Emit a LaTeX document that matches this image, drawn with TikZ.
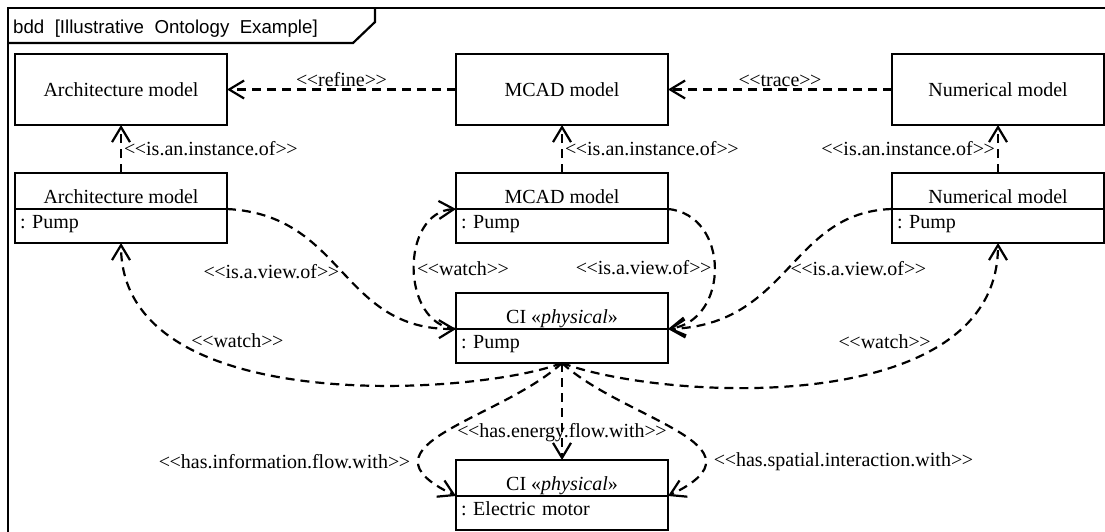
\documentclass[tikz,border=0pt]{standalone}
\usepackage{fontspec}
\setmainfont{Liberation Serif}
\newfontfamily\framefont{Liberation Sans}
\usepackage{tikz}
\usetikzlibrary{arrows.meta, positioning}
\frenchspacing

\newcommand{\stereo}[1]{<\kern-0.5pt<#1>\kern-0.5pt>}

\begin{document}
\begin{tikzpicture}[
  x=1pt, y=1pt,
  every node/.style={font=\fontsize{20}{24}\selectfont},
  model/.style={draw, line width=2.2pt, outer sep=0pt, inner sep=0pt,
    minimum width=212pt, minimum height=71pt},
  head/.style={draw, line width=2.2pt, outer sep=0pt, inner sep=0pt,
    minimum width=212pt, minimum height=36pt, text height=24pt, text depth=0pt},
  part/.style={draw, line width=2.2pt, outer sep=0pt, inner xsep=5pt, inner ysep=0pt,
    text width=202pt, align=left, minimum height=34pt, text height=4pt, text depth=0pt},
  dep/.style={-{Straight Barb[length=15pt, width=18pt]}, line width=2.2pt,
    dash pattern=on 9pt off 6pt},
  lbl/.style={inner sep=2pt}
]
\path[use as bounding box, clip] (0,0) rectangle (1105,-532);

% frame
\draw[line width=2.2pt] (8,-8) rectangle (1120,-545);
\draw[line width=2.2pt] (8,-43) -- (353,-43) -- (375,-22) -- (375,-8);
\node[font=\framefont\fontsize{18.7}{22}\selectfont, anchor=base west, inner sep=0pt]
  (title) at (13,-34) {bdd\ \ [Illustrative\ \ Ontology\ \ Example]};

\node[model] (archtop) at (121,-89.5) {Architecture model};
\node[model, right=229pt of archtop] (mcadtop) {MCAD model};
\node[model, right=224pt of mcadtop] (numtop) {Numerical model};

\node[head, below=48pt of archtop] (archinst) {Architecture model};
\node[part, below=0pt of archinst] (archpump) {: Pump};
\node[head, below=48pt of mcadtop] (mcadinst) {MCAD model};
\node[part, below=0pt of mcadinst] (mcadpump) {: Pump};
\node[head, below=48pt of numtop] (numinst) {Numerical model};
\node[part, below=0pt of numinst] (numpump) {: Pump};

\node[head, below=50pt of mcadpump] (pumpci) {CI «\textit{physical}»};
\node[part, below=0pt of pumpci] (pumppart) {: Pump};
\node[head, below=97pt of pumppart] (motorci) {CI «\textit{physical}»};
\node[part, below=0pt of motorci] (motorpart) {: Electric motor};

\draw[dep] (mcadtop) -- node[lbl, above] {\stereo{refine}} (archtop);
\draw[dep] (numtop) -- node[lbl, above] {\stereo{trace}} (mcadtop);
\draw[dep] (archinst) -- node[lbl, right] {\stereo{is.an.instance.of}} (archtop);
\draw[dep] (mcadinst) -- node[lbl, right] {\stereo{is.an.instance.of}} (mcadtop);
\draw[dep] (numinst) -- node[lbl, left] {\stereo{is.an.instance.of}} (numtop);

\draw[dep] (archinst.south east) .. controls +(118,-6) and +(-116,-1) .. (pumpci.south west)
  node[lbl, pos=.5, left] {\stereo{is.a.view.of}};
\draw[dep] (mcadinst.south east) .. controls +(62,-6) and +(62,9) .. (pumpci.south east)
  node[lbl, pos=.5, left] {\stereo{is.a.view.of}};
\draw[dep] (numinst.south west) .. controls +(-102,-3) and +(122,4) .. (pumpci.south east)
  node[lbl, pos=.5, right] {\stereo{is.a.view.of}};

\draw[dep] (pumpci.south west) .. controls +(-56,4) and +(-56,-3) .. (mcadinst.south west)
  node[lbl, pos=.5, right] {\stereo{watch}};
\draw[dep] (pumppart.south) .. controls +(-82,-32) and +(0,-177) .. (archpump.south)
  node[lbl, pos=.75, right, xshift=10pt] {\stereo{watch}};
\draw[dep] (pumppart.south) .. controls +(98,-37) and +(0,-177) .. (numpump.south)
  node[lbl, pos=.75, left, xshift=-10pt] {\stereo{watch}};

\draw[dep] (pumppart) -- node[lbl, pos=.72] {\stereo{has.energy.flow.with}} (motorci);
\draw[dep] (pumppart.south) .. controls +(-62,-57) and +(-106,51) .. (motorci.south west)
  node[lbl, pos=.75, left, xshift=-6pt] {\stereo{has.information.flow.with}};
\draw[dep] (pumppart.south) .. controls +(62,-57) and +(106,51) .. (motorci.south east)
  node[lbl, pos=.75, right, xshift=6pt] {\stereo{has.spatial.interaction.with}};

\end{tikzpicture}
\end{document}
